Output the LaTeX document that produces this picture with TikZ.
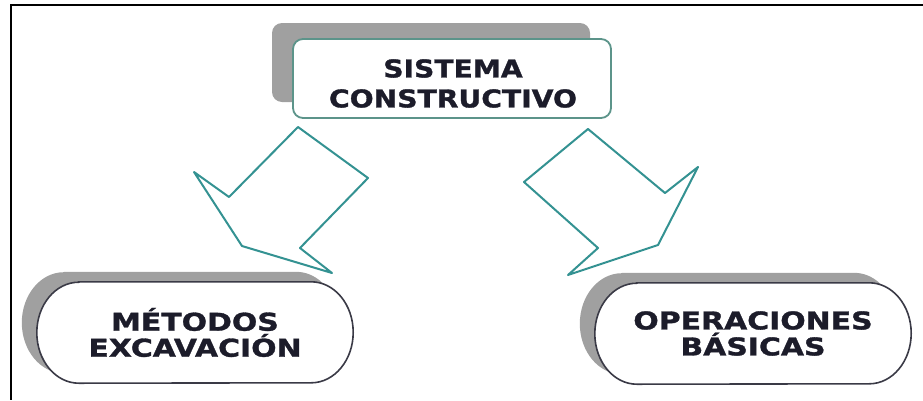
\documentclass[tikz,border=0pt]{standalone}
\usepackage{fontspec}
\usetikzlibrary{shadows,calc,backgrounds}
\newfontfamily\labelfont{DejaVu Sans}[FakeStretch=1.15, BoldFeatures={FakeBold=1.3}]
\newfontfamily\widelabelfont{DejaVu Sans}[FakeStretch=1.22, BoldFeatures={FakeBold=1.3}]
\definecolor{arrowteal}{RGB}{52,146,146}
\definecolor{boxteal}{RGB}{92,148,138}
\definecolor{boxdark}{RGB}{58,58,70}
\definecolor{inkdark}{RGB}{28,28,42}
\definecolor{shadowgray}{RGB}{160,160,160}
% outline of a box with half-elliptic ends: node, x radius, y radius
\newcommand\stadiumoutline[3]{%
  ($(#1.north west)+(#2pt,0pt)$) -- ($(#1.north east)+(-#2pt,0pt)$)
  arc[start angle=90,end angle=-90,x radius=#2pt,y radius=#3pt]
  -- ($(#1.south west)+(#2pt,0pt)$)
  arc[start angle=270,end angle=90,x radius=#2pt,y radius=#3pt] -- cycle}
\tikzset{
  stage/.style={draw=boxteal, line width=1.8pt, fill=white, rounded corners=10pt,
    minimum width=318pt, minimum height=79pt, inner sep=0pt,
    drop shadow={shadow xshift=-21pt, shadow yshift=16pt, fill=shadowgray, opacity=1}},
  stagetext/.style={align=center, inner sep=0pt, text=inkdark,
    font=\labelfont\bfseries\fontsize{24.5}{30}\selectfont},
  outcome/.style={minimum width=316pt, minimum height=101pt, inner sep=0pt,
    align=center, text=inkdark,
    font=\widelabelfont\bfseries\fontsize{24.5}{26}\selectfont},
  outcomeline/.style={draw=boxdark, line width=1.6pt, fill=white},
  outcomeshadow/.style={fill=shadowgray},
  blockarrow/.style={draw=arrowteal, line width=2pt, fill=white, line join=round},
  frameline/.style={draw=black, line width=2.2pt}
}
\begin{document}
\begin{tikzpicture}[x=1pt, y=-1pt]
  \useasboundingbox (0,0) rectangle (923,400);
  % outer frame (top and left edges)
  \draw[frameline] (923,5) -- (11,5) -- (11,400);

  % block arrows
  \draw[blockarrow] (298,127) -- (368,178) -- (300,248) -- (332,273)
    -- (242,246) -- (194,172) -- (229,197) -- cycle;
  \draw[blockarrow] (588,129) -- (524,182) -- (598,248) -- (568,275)
    -- (658,245) -- (698,167) -- (665,193) -- cycle;

  % top box
  \node[stage] (sistema) at (452,78.5) {};
  \node[stagetext] (sistematext) at (453,83.5) {SISTEMA\\CONSTRUCTIVO};

  % lower boxes
  \node[outcome] (metodos) at (195,332.5) {MÉTODOS\\EXCAVACIÓN};
  \node[outcome] (operaciones) at (753,333.5) {OPERACIONES\\BÁSICAS};

  \begin{scope}[on background layer]
    \begin{scope}[transform canvas={xshift=-15pt, yshift=10pt}]
      \fill[outcomeshadow] \stadiumoutline{metodos}{42}{50.5};
      \fill[outcomeshadow] \stadiumoutline{operaciones}{42}{50.5};
    \end{scope}
    \draw[outcomeline] \stadiumoutline{metodos}{42}{50.5};
    \draw[outcomeline] \stadiumoutline{operaciones}{42}{50.5};
  \end{scope}
\end{tikzpicture}
\end{document}
